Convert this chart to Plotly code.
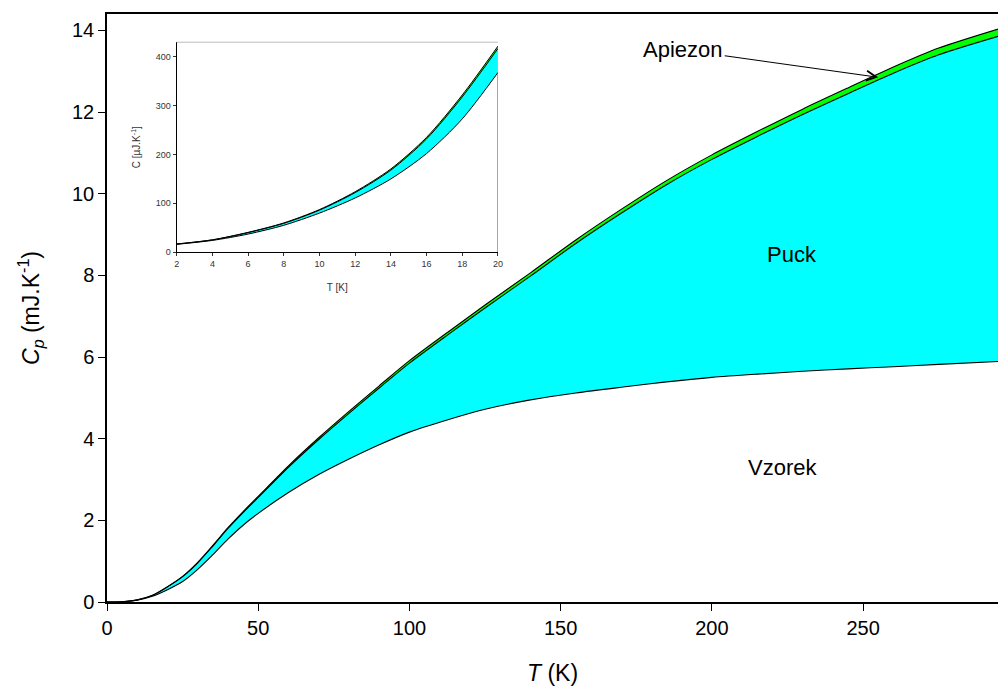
import plotly.graph_objects as go

# ---------------- main panel data (T in K, C in mJ/K) ----------------
T_main = [0, 5, 10, 15, 20, 25, 30, 35, 40, 45, 50, 60, 70, 80, 90, 100, 113, 125,
          140, 155, 170, 185, 200, 215, 230, 245, 260, 275, 295]
C_sample = [0, 0.006, 0.045, 0.14, 0.30, 0.50, 0.80, 1.16, 1.54, 1.88, 2.17, 2.68, 3.12,
            3.50, 3.85, 4.16, 4.47, 4.72, 4.95, 5.12, 5.26, 5.39, 5.50, 5.58, 5.65,
            5.71, 5.76, 5.82, 5.89]
C_puck_total = [0, 0.007, 0.05, 0.16, 0.37, 0.62, 0.96, 1.37, 1.80, 2.19, 2.56, 3.30,
                3.98, 4.62, 5.24, 5.85, 6.56, 7.20, 7.98, 8.78, 9.52, 10.22, 10.84,
                11.40, 11.94, 12.45, 12.95, 13.40, 13.86]
C_apiezon = [0, 0.0005, 0.002, 0.004, 0.006, 0.008, 0.012, 0.016, 0.02, 0.024, 0.028,
             0.035, 0.042, 0.048, 0.054, 0.06, 0.066, 0.072, 0.08, 0.087, 0.095, 0.10,
             0.11, 0.12, 0.13, 0.14, 0.15, 0.165, 0.18]

# ---------------- inset data (T in K, C in uJ/K) ----------------
T_in = [2, 4, 6, 8, 10, 12, 14, 16, 18, 20]
C_in_sample = [16, 24, 37, 55, 80, 111, 150, 202, 273, 368]
C_in_puck_total = [16.5, 25, 40, 59, 86, 122, 168, 232, 318, 417]
C_in_apiezon = [0.2, 0.3, 0.5, 0.8, 1.2, 1.8, 2.5, 3.2, 4.0, 5.0]

C_total = [p + a for p, a in zip(C_puck_total, C_apiezon)]
C_in_total = [p + a for p, a in zip(C_in_puck_total, C_in_apiezon)]

FONT = "Arial, Liberation Sans, sans-serif"
CYAN = "#00FFFF"
GREEN = "#00FF00"

fig = go.Figure()

def add_stack(x, lower, mid, top, xa, ya, lw):
    common = dict(mode="lines", xaxis=xa, yaxis=ya, showlegend=False, hoverinfo="skip")
    ln = dict(color="black", width=lw, shape="spline", smoothing=0.8)
    fig.add_trace(go.Scatter(x=x, y=lower, line=ln, **common))
    fig.add_trace(go.Scatter(x=x, y=mid, line=ln, fill="tonexty", fillcolor=CYAN, **common))
    fig.add_trace(go.Scatter(x=x, y=top, line=ln, fill="tonexty", fillcolor=GREEN, **common))

add_stack(T_main, C_sample, C_puck_total, C_total, "x", "y", 1.1)
add_stack(T_in, C_in_sample, C_in_puck_total, C_in_total, "x2", "y2", 1.0)

# right edge of the sample polygon in the inset
fig.add_trace(go.Scatter(x=[T_in[-1], T_in[-1]], y=[0, C_in_sample[-1]], mode="lines",
                         line=dict(color="#555555", width=1), xaxis="x2", yaxis="y2",
                         showlegend=False, hoverinfo="skip"))

fig.update_layout(
    width=998, height=689,
    margin=dict(l=107, r=0, t=14, b=87, autoexpand=False),
    paper_bgcolor="white", plot_bgcolor="white",
    font=dict(family=FONT, color="black"),
    xaxis=dict(range=[0, 294.6], tickvals=[0, 50, 100, 150, 200, 250],
               ticks="outside", ticklen=7, tickwidth=1, tickcolor="black",
               showline=True, linecolor="black", linewidth=1.5, mirror=True,
               showgrid=False, zeroline=False, tickfont=dict(size=20), automargin=False,
               title=dict(text="<i>T</i> (K)", font=dict(size=23), standoff=27)),
    yaxis=dict(range=[0, 14.4], tickvals=list(range(0, 15, 2)),
               ticks="outside", ticklen=7, tickwidth=1, tickcolor="black",
               showline=True, linecolor="black", linewidth=1.5, automargin=False,
               showgrid=False, zeroline=False, tickfont=dict(size=20),
               title=dict(text="<i>C</i><sub><i>p</i></sub> (mJ.K<sup>-1</sup>)",
                          font=dict(size=23), standoff=26)),
    xaxis2=dict(domain=[0.0782, 0.4388], anchor="y2", range=[2, 20],
                tickvals=list(range(2, 21, 2)), ticks="outside", ticklen=3,
                tickcolor="#333", showline=True, linecolor="black", linewidth=1,
                showgrid=False, zeroline=False, tickfont=dict(size=9, color="#333"),
                title=dict(text="T [K]", font=dict(size=10, color="#333"), standoff=16)),
    yaxis2=dict(domain=[0.595, 0.952], anchor="x2", range=[0, 430],
                tickvals=[0, 100, 200, 300, 400], ticks="outside", ticklen=3,
                tickcolor="#333", showline=True, linecolor="black", linewidth=1,
                showgrid=False, zeroline=False, tickfont=dict(size=9, color="#333"),
                title=dict(text="C [µJ.K<sup>-1</sup>]", font=dict(size=10, color="#333"),
                           standoff=13)),
    shapes=[dict(type="line", xref="x2 domain", yref="y2 domain", x0=0, x1=1, y0=1, y1=1,
                 line=dict(color="#bbbbbb", width=1))],
    annotations=[
        dict(text="Apiezon", x=255, y=12.85, xref="x", yref="y", ax=190.5, ay=13.52,
             axref="x", ayref="y", showarrow=True, arrowhead=5, arrowsize=1.6,
             arrowwidth=1.2, arrowcolor="black", font=dict(size=22)),
        dict(text="Puck", x=226.5, y=8.52, xref="x", yref="y", showarrow=False,
             font=dict(size=22)),
        dict(text="Vzorek", x=223.5, y=3.3, xref="x", yref="y", showarrow=False,
             font=dict(size=22)),
    ],
)

fig.write_html("out.html",
               config={"displayModeBar": False},
               post_script="document.body.style.margin='0';"
                           "document.body.style.overflow='hidden';")
